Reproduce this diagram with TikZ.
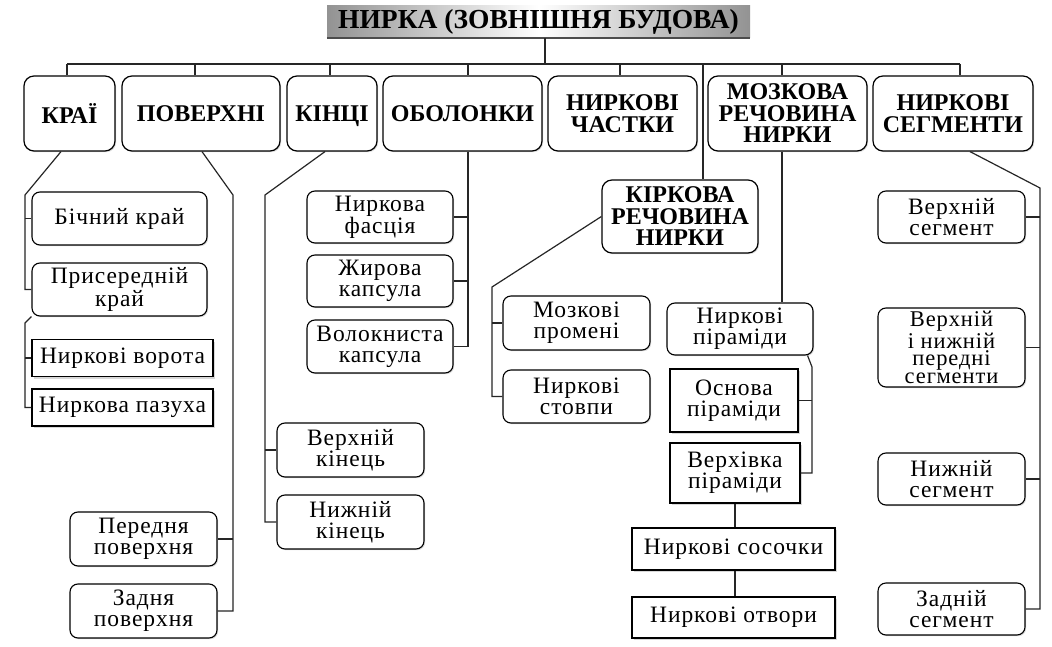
\documentclass[tikz,border=0pt]{standalone}
\usepackage{fontspec}
\setmainfont{Liberation Serif}
\newfontfamily\secfont[LetterSpace=4]{Liberation Serif}
\usetikzlibrary{shadows}
\begin{document}
\begin{tikzpicture}[x=1pt,y=-1pt,
  conn/.style={line width=1.2pt, draw=black!85},
  topbox/.style={draw, line width=1.2pt, rounded corners=10pt, fill=white,
    font=\bfseries\fontsize{24}{21.5}\selectfont, align=center, inner sep=0pt,
    drop shadow={shadow xshift=1.2pt, shadow yshift=-1.2pt, fill=gray!55}},
  subbox/.style={draw, line width=1.1pt, rounded corners=8pt, fill=white,
    font=\secfont\fontsize{23.5}{21}\selectfont, align=center, inner sep=0pt,
    drop shadow={shadow xshift=1.2pt, shadow yshift=-1.2pt, fill=gray!55}},
  sqbox/.style={draw, line width=1.1pt, fill=white,
    font=\secfont\fontsize{23.5}{21}\selectfont, align=center, inner sep=0pt,
    drop shadow={shadow xshift=2.2pt, shadow yshift=-2.2pt, fill=gray!60}},
  titlebox/.style={left color=gray!85, right color=gray!85, middle color=white,
    font=\bfseries\fontsize{27.5}{28}\selectfont, inner sep=0pt}
]
\useasboundingbox (0,0) rectangle (1052,647);
\fill[white] (0,0) rectangle (1052,647);

% title
\node[titlebox, minimum width=423pt, minimum height=32pt] (title) at (538.5,22) {НИРКА (ЗОВНІШНЯ БУДОВА)};
\draw[line width=1.5pt, black!70] (title.south west) -- (title.south east);

% top row
\node[topbox, minimum width=91pt,  minimum height=75pt] (krai)    at (69.5,113.5)  {КРАЇ};
\node[topbox, minimum width=158pt, minimum height=75pt] (poverkh) at (201,113.5)   {ПОВЕРХНІ};
\node[topbox, minimum width=90pt,  minimum height=75pt, text depth=0pt] (kinci) at (332,113.5) {КІНЦІ};
\node[topbox, minimum width=159pt, minimum height=75pt] (obolon)  at (462.5,113.5) {ОБОЛОНКИ};
\node[topbox, minimum width=149pt, minimum height=75pt] (chastky) at (622.5,113.5) {НИРКОВІ\\ЧАСТКИ};
\node[topbox, minimum width=159pt, minimum height=75pt] (mozk)    at (787.5,113.5) {МОЗКОВА\\РЕЧОВИНА\\НИРКИ};
\node[topbox, minimum width=160pt, minimum height=75pt] (segm)    at (953,113.5)   {НИРКОВІ\\СЕГМЕНТИ};

% КРАЇ children
\node[subbox, minimum width=175pt, minimum height=53pt] (bichnyi) at (119.5,218.5) {Бічний край};
\node[subbox, minimum width=175pt, minimum height=53pt] (pryser)  at (119.5,289.5) {Присередній\\край};
\node[sqbox,  minimum width=181pt, minimum height=37pt] (vorota)  at (122.5,358)   {Ниркові ворота};
\node[sqbox,  minimum width=181pt, minimum height=37pt] (pazukha) at (122.5,407.5) {Ниркова пазуха};

% ПОВЕРХНІ children
\node[subbox, minimum width=147pt, minimum height=54pt] (perednia) at (143.5,539) {Передня\\поверхня};
\node[subbox, minimum width=147pt, minimum height=54pt] (zadnia)   at (143.5,611) {Задня\\поверхня};

% КІНЦІ children
\node[subbox, minimum width=147pt, minimum height=54pt] (verkhkin) at (350.5,450) {Верхній\\кінець};
\node[subbox, minimum width=147pt, minimum height=54pt] (nyzhkin)  at (350.5,522) {Нижній\\кінець};

% ОБОЛОНКИ children
\node[subbox, minimum width=146pt, minimum height=52pt] (fascia)  at (380,217)   {Ниркова\\фасція};
\node[subbox, minimum width=146pt, minimum height=52pt] (zhyrova) at (380,281)   {Жирова\\капсула};
\node[subbox, minimum width=146pt, minimum height=53pt] (volokn)  at (380,346.5) {Волокниста\\капсула};

% КІРКОВА
\node[topbox, minimum width=156pt, minimum height=73pt] (kirk) at (680,216.5) {КІРКОВА\\РЕЧОВИНА\\НИРКИ};
\node[subbox, minimum width=147pt, minimum height=54pt] (promeni) at (576.5,323)   {Мозкові\\промені};
\node[subbox, minimum width=147pt, minimum height=53pt] (stovpy)  at (576.5,396.5) {Ниркові\\стовпи};

% МОЗКОВА children
\node[subbox, minimum width=146pt, minimum height=52pt] (piram)     at (740,329)   {Ниркові\\піраміди};
\node[sqbox,  minimum width=128pt, minimum height=63pt] (osnova)    at (734,400.5) {Основа\\піраміди};
\node[sqbox,  minimum width=130pt, minimum height=60pt] (verkhivka) at (735,473)   {Верхівка\\піраміди};
\node[sqbox,  minimum width=203pt, minimum height=42pt] (sosochky)  at (733.5,549) {Ниркові сосочки};
\node[sqbox,  minimum width=203pt, minimum height=41pt] (otvory)    at (733.5,617.5) {Ниркові отвори};

% СЕГМЕНТИ children
\node[subbox, minimum width=147pt, minimum height=52pt] (s1) at (951.5,217)   {Верхній\\сегмент};
\node[subbox, minimum width=147pt, minimum height=79pt, font=\secfont\fontsize{22.5}{17.5}\selectfont] (s2) at (951.5,347.5) {Верхній\\і нижній\\передні\\сегменти};
\node[subbox, minimum width=147pt, minimum height=52pt] (s3) at (951.5,479)   {Нижній\\сегмент};
\node[subbox, minimum width=147pt, minimum height=52pt] (s4) at (951.5,609)   {Задній\\сегмент};

% bus
\coordinate (busL) at (67,64);
\coordinate (busR) at (960,64);
\draw[conn] (busL) -- (busR);
\draw[conn] ([xshift=6.5pt]title.south) -- ([xshift=6.5pt]title.south |- busL);
\draw[conn] (busL) -- ([xshift=-2.5pt]krai.north);
\draw[conn] ([xshift=-6pt]poverkh.north |- busL) -- ([xshift=-6pt]poverkh.north);
\draw[conn] ([xshift=-2pt]kinci.north |- busL) -- ([xshift=-2pt]kinci.north);
\draw[conn] ([xshift=5.5pt]obolon.north |- busL) -- ([xshift=5.5pt]obolon.north);
\draw[conn] ([xshift=-2.5pt]chastky.north |- busL) -- ([xshift=-2.5pt]chastky.north);
\draw[conn] ([xshift=-5.5pt]mozk.north |- busL) -- ([xshift=-5.5pt]mozk.north);
\draw[conn] (busR) -- ([xshift=7pt]segm.north);
\draw[conn] ([xshift=23pt]kirk.north |- busL) -- ([xshift=23pt]kirk.north);

% КРАЇ connectors
\coordinate (k1) at (25,195);
\draw[conn] ([xshift=-8.5pt]krai.south) -- (k1) |- (pryser.west);
\draw[conn] (k1 |- bichnyi.west) -- (bichnyi.west);
\coordinate (k2) at (25,323);
\draw[conn] (pryser.south west) -- (k2) |- (pazukha.west);
\draw[conn] (k2 |- vorota.west) -- (vorota.west);

% ПОВЕРХНІ connectors
\coordinate (p1) at (233,195);
\draw[conn] ([xshift=1pt]poverkh.south) -- (p1) |- (zadnia.east);
\draw[conn] (p1 |- perednia.east) -- (perednia.east);

% КІНЦІ connectors
\coordinate (c1) at (265,195);
\draw[conn] ([xshift=-7pt]kinci.south) -- (c1) |- (nyzhkin.west);
\draw[conn] (c1 |- verkhkin.west) -- (verkhkin.west);

% ОБОЛОНКИ connectors
\draw[conn] ([xshift=5.5pt]obolon.south) |- (volokn.east);
\draw[conn] ([xshift=5.5pt]obolon.south |- fascia.east) -- (fascia.east);
\draw[conn] ([xshift=5.5pt]obolon.south |- zhyrova.east) -- (zhyrova.east);

% КІРКОВА connectors
\coordinate (r1) at (492,287);
\draw[conn] (kirk.west) -- (r1) |- (stovpy.west);
\draw[conn] (r1 |- promeni.west) -- (promeni.west);

% МОЗКОВА connectors
\draw[conn] ([xshift=-5.5pt]mozk.south) -- ([xshift=-5.5pt]mozk.south |- piram.north);
\coordinate (m1) at (812,367);
\draw[conn] ([xshift=-6pt]piram.south east) -- (m1) |- (verkhivka.east);
\draw[conn] (m1 |- osnova.east) -- (osnova.east);
\draw[conn] (verkhivka.south) -- (verkhivka.south |- sosochky.north);
\draw[conn] (verkhivka.south |- sosochky.south) -- (verkhivka.south |- otvory.north);

% СЕГМЕНТИ connectors
\coordinate (g1) at (1040,188);
\draw[conn] ([xshift=17pt]segm.south) -- (g1) |- (s4.east);
\draw[conn] (g1 |- s1.east) -- (s1.east);
\draw[conn] (g1 |- s2.east) -- (s2.east);
\draw[conn] (g1 |- s3.east) -- (s3.east);
\end{tikzpicture}
\end{document}
